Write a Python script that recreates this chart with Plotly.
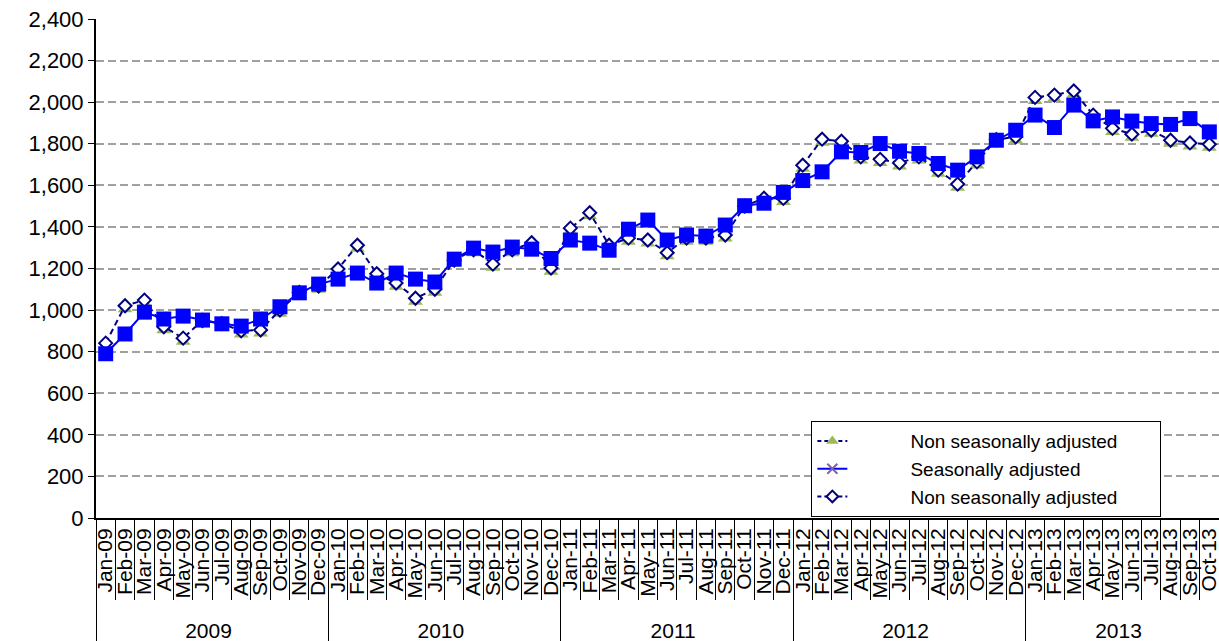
import plotly.graph_objects as go

months = ["Jan","Feb","Mar","Apr","May","Jun","Jul","Aug","Sep","Oct","Nov","Dec"]
year_labels = ["2009","2010","2011","2012","2013"]
month_labels = []
years = []
for yi, yr in enumerate(year_labels):
    for m in months:
        if yr == "2013" and m in ("Nov", "Dec"):
            continue
        month_labels.append(f"{m}-{yr[2:]}")
        years.append(yr)

seasonally_adjusted = [
    790, 885, 990, 957, 971, 952, 934, 923, 957, 1016, 1083, 1125,
    1149, 1178, 1130, 1178, 1149, 1135, 1245, 1298, 1279, 1303, 1293, 1248,
    1337, 1322, 1288, 1389, 1433, 1337, 1361, 1356, 1409, 1502, 1514, 1566,
    1623, 1665, 1761, 1758, 1801, 1764, 1753, 1705, 1673, 1737, 1817, 1865,
    1938, 1878, 1986, 1910, 1929, 1909, 1897, 1893, 1921, 1857,
]

non_seasonally_adjusted = [
    841, 1021, 1048, 920, 865, 950, 935, 900, 904, 1000, 1085, 1115,
    1198, 1312, 1175, 1130, 1057, 1100, 1240, 1290, 1221, 1290, 1324, 1202,
    1394, 1468, 1312, 1346, 1337, 1276, 1346, 1346, 1361, 1500, 1538, 1537,
    1697, 1822, 1812, 1737, 1725, 1708, 1737, 1673, 1606, 1713, 1820, 1833,
    2023, 2034, 2054, 1938, 1874, 1846, 1865, 1817, 1804, 1798,
]

x = [years, month_labels]
font = "Liberation Sans, Arial, sans-serif"
pad = "\u00a0" * 11
tail = "\u00a0" * 7
NAVY = "#000080"
BLUE = "#0000FF"
GREEN = "#9BBB59"
PURPLE = "#8064A2"

fig = go.Figure()

# triangle markers on the (hidden) base axis, drawn underneath;
# Excel anchors triangles on their bounding box, so they sit a little lower
fig.add_trace(go.Scatter(
    x=x, y=non_seasonally_adjusted, name="Non seasonally adjusted",
    mode="markers", yaxis="y",
    marker=dict(symbol="triangle-up", size=13, color=GREEN),
    showlegend=False,
))
fig.add_trace(go.Scatter(
    x=x, y=non_seasonally_adjusted, name="Non seasonally adjusted",
    mode="lines+markers", yaxis="y2",
    line=dict(color=NAVY, width=2, dash="6px,4px"),
    marker=dict(symbol="diamond", size=10, color="white",
                line=dict(color=NAVY, width=2)),
    showlegend=False,
))
fig.add_trace(go.Scatter(
    x=x, y=seasonally_adjusted, name="Seasonally adjusted",
    mode="lines+markers", yaxis="y2",
    line=dict(color=BLUE, width=2),
    marker=dict(symbol="square", size=15, color=BLUE),
    showlegend=False,
))

# legend entries (as drawn in the original legend)
x0 = [[years[0]], [month_labels[0]]]
fig.add_trace(go.Scatter(
    x=x0, y=[None], name=pad + "Non seasonally adjusted" + tail,
    mode="lines+markers", yaxis="y2",
    line=dict(color=NAVY, width=2, dash="4px,3px"),
    marker=dict(symbol="triangle-up", size=11, color=GREEN),
    legendrank=1,
))
fig.add_trace(go.Scatter(
    x=x0, y=[None], name=pad + "Seasonally adjusted",
    mode="lines+markers", yaxis="y2",
    line=dict(color=BLUE, width=2),
    marker=dict(symbol="x-thin", size=10, color=PURPLE,
                line=dict(color=PURPLE, width=2)),
    legendrank=2,
))
fig.add_trace(go.Scatter(
    x=x0, y=[None], name=pad + "Non seasonally adjusted" + tail,
    mode="lines+markers", yaxis="y2",
    line=dict(color=NAVY, width=2, dash="4px,3px"),
    marker=dict(symbol="diamond", size=9, color="white",
                line=dict(color=NAVY, width=2)),
    legendrank=3,
))

fig.update_layout(
    width=1219, height=641,
    margin=dict(l=96, r=0, t=19, b=123),
    paper_bgcolor="white", plot_bgcolor="white",
    font=dict(family=font, size=21, color="black"),
    showlegend=True,
    legend=dict(
        x=0.637, y=0.194, xanchor="left", yanchor="top",
        bgcolor="white", bordercolor="black", borderwidth=1,
        font=dict(size=19), tracegroupgap=0,
    ),
    xaxis=dict(
        type="multicategory",
        range=[-0.5, len(month_labels) - 0.5],
        tickangle=-90, nticks=100,
        showline=True, linecolor="black", linewidth=2,
        ticks="outside", ticklen=80, tickcolor="black", tickwidth=1,
        tickson="boundaries",
        showdividers=True, dividercolor="black", dividerwidth=1,
        showgrid=False,
        tickfont=dict(size=21),
    ),
    yaxis=dict(
        range=[16, 2416], visible=False, showgrid=False, zeroline=False,
    ),
    yaxis2=dict(
        overlaying="y", side="left",
        range=[0, 2400], dtick=200, tickformat=",",
        showline=True, linecolor="black", linewidth=2,
        ticks="outside", ticklen=6, tickcolor="black",
        showgrid=True, gridcolor="#A0A0A0", gridwidth=2, griddash="8px,4px",
        zeroline=False,
        tickfont=dict(size=22),
    ),
)

fig.write_html("out.html", config={"displayModeBar": False},
               post_script="document.body.style.margin='0';")
